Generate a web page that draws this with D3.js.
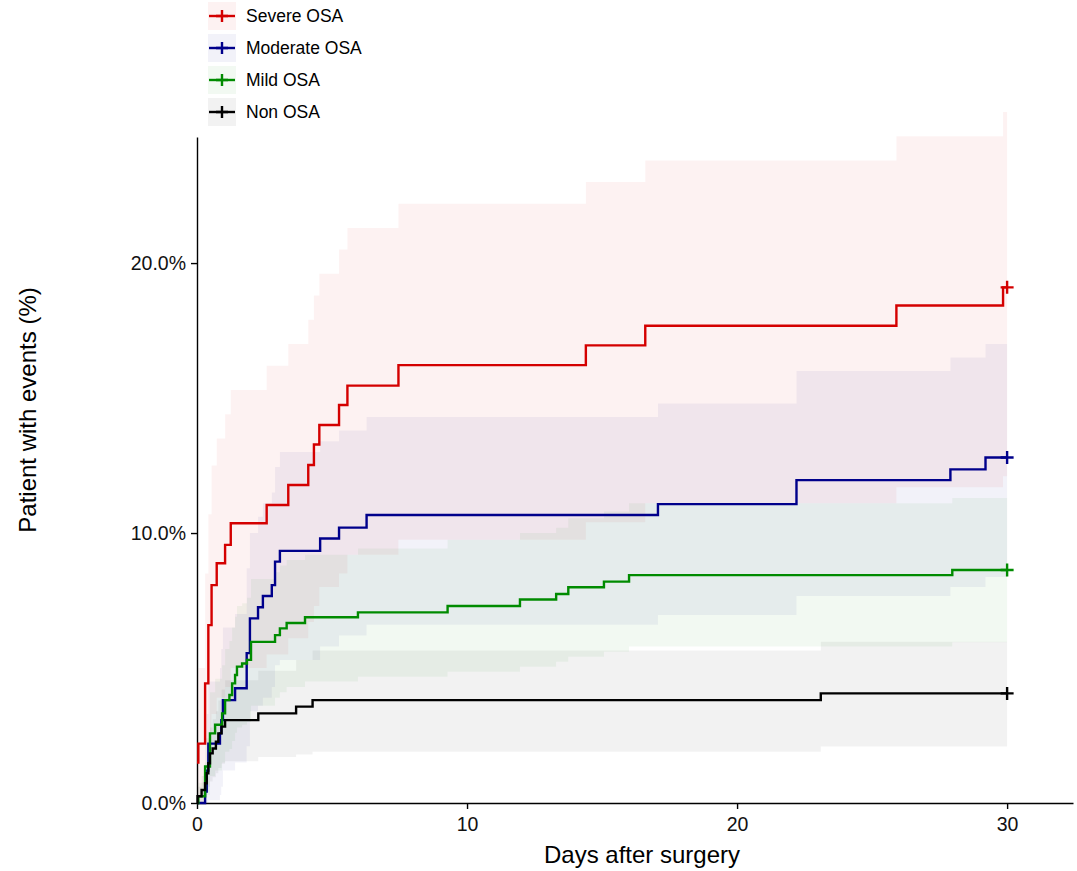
<!DOCTYPE html>
<html lang="en">
<head>
<meta charset="UTF-8">
<title>Cumulative incidence by OSA severity</title>
<script src="https://d3js.org/d3.v7.min.js"></script>
<style>
    body {
        margin: 0;
        background: #ffffff;
        font-family: "Liberation Sans", Arial, sans-serif;
    }
    .axis path, .axis line {
        stroke: #000;
        stroke-width: 1.4px;
    }
    .axis text {
        font-family: "Liberation Sans", Arial, sans-serif;
        font-size: 19.5px;
        fill: #111;
    }
    .axis-title {
        font-size: 24px;
        fill: #000;
    }
    .legend-text {
        font-size: 17.5px;
        fill: #000;
    }
</style>
</head>
<body>
<div id="chart"></div>
<script>
// rows: [day, cumulative %, lower CI %, upper CI %]
const severe = [
    [0, 1.5, 0, 3.5], [0.05, 2.2, 0, 5.0], [0.3, 4.43, 0.6, 8.5], [0.42, 6.59, 2.15, 10.7],
    [0.54, 8.07, 3.3, 12.5], [0.73, 8.88, 3.9, 13.5], [1.04, 9.56, 4.3, 14.4], [1.25, 10.36, 5.0, 15.3],
    [2.58, 11.04, 5.5, 16.2], [3.38, 11.78, 6.1, 17.0], [4.12, 12.52, 6.7, 17.9], [4.33, 13.28, 7.3, 18.8],
    [4.53, 14.0, 8.0, 19.6], [5.26, 14.74, 8.5, 20.5], [5.57, 15.46, 9.2, 21.3], [7.46, 16.22, 9.75, 22.2],
    [14.4, 16.95, 10.4, 23.0], [16.6, 17.68, 11.1, 23.8], [25.9, 18.43, 11.7, 24.7], [29.85, 19.1, 12.1, 25.6],
    [30, 19.1, 12.1, 25.6]
];
const moderate = [
    [0, 0, 0, 0], [0.3, 0.42, 0, 1.5], [0.36, 1.2, 0, 3.3], [0.42, 2.2, 0.1, 4.5],
    [0.85, 2.58, 0.3, 5.0], [0.9, 3.07, 0.6, 5.7], [0.96, 3.81, 1.2, 6.5], [1.41, 4.25, 1.5, 7.0],
    [1.84, 5.55, 2.1, 8.7], [1.96, 6.84, 3.4, 10.0], [2.26, 7.25, 3.6, 10.6], [2.44, 7.67, 3.9, 11.1],
    [2.77, 8.07, 4.3, 11.5], [2.89, 8.94, 5.1, 12.45], [3.07, 9.34, 5.3, 13.0], [4.56, 9.8, 5.8, 13.4],
    [5.26, 10.2, 6.2, 13.8], [6.28, 10.67, 6.6, 14.3], [17.07, 11.07, 6.96, 14.8], [22.2, 11.96, 7.67, 16.0],
    [27.9, 12.36, 8.0, 16.5], [29.2, 12.8, 8.37, 17.0], [30, 12.8, 8.37, 17.0]
];
const mild = [
    [0, 0, 0, 0], [0.05, 0.25, 0, 0.75], [0.3, 1.35, 0.3, 2.4], [0.48, 2.58, 1.0, 4.1],
    [0.67, 2.9, 1.2, 4.6], [0.93, 3.32, 1.5, 5.1], [1.04, 3.81, 1.9, 5.7], [1.2, 4.0, 2.0, 6.0],
    [1.3, 4.43, 2.3, 6.5], [1.41, 4.74, 2.6, 6.9], [1.48, 5.05, 2.8, 7.3], [1.67, 5.17, 2.9, 7.4],
    [1.85, 5.3, 3.0, 7.6], [2.0, 5.97, 3.6, 8.3], [2.89, 6.22, 3.9, 8.55], [3.07, 6.47, 4.1, 8.8],
    [3.32, 6.67, 4.3, 9.0], [4.0, 6.88, 4.5, 9.2], [5.96, 7.06, 4.68, 9.43], [9.28, 7.3, 4.86, 9.75],
    [11.96, 7.54, 5.05, 10.0], [13.3, 7.74, 5.23, 10.2], [13.75, 7.99, 5.42, 10.55], [15.07, 8.2, 5.6, 10.8],
    [16.0, 8.44, 5.8, 11.1], [27.97, 8.63, 5.95, 11.3], [30, 8.63, 5.95, 11.3]
];
const nonOsa = [
    [0, 0, 0, 0], [0.02, 0.25, 0, 0.6], [0.17, 0.48, 0.05, 1.0], [0.3, 0.73, 0.2, 1.35],
    [0.36, 1.1, 0.4, 1.8], [0.42, 1.47, 0.6, 2.3], [0.48, 1.84, 0.8, 2.8], [0.58, 2.02, 0.95, 3.1],
    [0.7, 2.27, 1.1, 3.4], [0.79, 2.58, 1.3, 3.8], [0.91, 2.83, 1.45, 4.2], [1.04, 3.07, 1.55, 4.55],
    [2.27, 3.32, 1.7, 4.9], [3.67, 3.57, 1.8, 5.3], [4.28, 3.81, 1.9, 5.65], [23.1, 4.06, 2.09, 5.97],
    [30, 4.06, 2.09, 5.97]
];

const groupNames = ["Severe OSA", "Moderate OSA", "Mild OSA", "Non OSA"];
const groupColors = ["#d40000", "#00008b", "#008b00", "#000000"];
const groupData = [severe, moderate, mild, nonOsa];
const xTicks = [0, 10, 20, 30];
const yTicks = [0, 10, 20];

const width = 1077, height = 871;
const panel = { left: 197, right: 1073, top: 137, bottom: 803 };

const svg = d3.select("#chart").append("svg")
    .attr("width", width)
    .attr("height", height);

const x = d3.scaleLinear().domain([0, 32.44]).range([panel.left, panel.right]);
const y = d3.scaleLinear().domain([0, 24.67]).range([panel.bottom, panel.top]);

// confidence bands
const band = d3.area()
    .curve(d3.curveStepAfter)
    .x(d => x(d[0]))
    .y0(d => y(d[2]))
    .y1(d => y(d[3]));

svg.append("g").selectAll("path")
    .data(groupData)
    .join("path")
    .attr("d", band)
    .attr("fill", (d, i) => groupColors[i])
    .attr("fill-opacity", 0.05);

// axes
svg.append("g")
    .attr("class", "axis")
    .attr("transform", `translate(0,${panel.bottom})`)
    .call(d3.axisBottom(x).tickValues(xTicks).tickSize(6).tickSizeOuter(0).tickPadding(8).tickFormat(d3.format("d")));

svg.append("g")
    .attr("class", "axis")
    .attr("transform", `translate(${panel.left},0)`)
    .call(d3.axisLeft(y).tickValues(yTicks).tickSize(6).tickSizeOuter(0).tickPadding(5).tickFormat(d => d.toFixed(1) + "%"));

// step curves
const step = d3.line()
    .curve(d3.curveStepAfter)
    .x(d => x(d[0]))
    .y(d => y(d[1]));

svg.append("g").selectAll("path")
    .data(groupData)
    .join("path")
    .attr("d", step)
    .attr("fill", "none")
    .attr("stroke", (d, i) => groupColors[i])
    .attr("stroke-width", 2.4);

// censor marks at end of follow-up
svg.append("g").selectAll("path")
    .data(groupData)
    .join("path")
    .attr("transform", d => {
        const last = d[d.length - 1];
        return `translate(${x(last[0])},${y(last[1])})`;
    })
    .attr("d", "M-6.5,0H6.5M0,-6.5V6.5")
    .attr("stroke", (d, i) => groupColors[i])
    .attr("stroke-width", 2.4)
    .attr("fill", "none");

// axis titles
svg.append("text")
    .attr("class", "axis-title")
    .attr("x", 642)
    .attr("y", 863)
    .attr("text-anchor", "middle")
    .text("Days after surgery");

svg.append("text")
    .attr("class", "axis-title")
    .attr("transform", "translate(36,410) rotate(-90)")
    .attr("text-anchor", "middle")
    .text("Patient with events (%)");

// legend
const legend = svg.append("g").attr("transform", "translate(208,2)");
const item = legend.selectAll("g")
    .data(groupNames)
    .join("g")
    .attr("transform", (d, i) => `translate(0,${i * 32})`);

item.append("rect")
    .attr("width", 28)
    .attr("height", 28)
    .attr("fill", (d, i) => groupColors[i])
    .attr("fill-opacity", 0.05);

item.append("line")
    .attr("x1", 1).attr("x2", 27)
    .attr("y1", 14).attr("y2", 14)
    .attr("stroke", (d, i) => groupColors[i])
    .attr("stroke-width", 2.4);

item.append("path")
    .attr("transform", "translate(14,14)")
    .attr("d", "M-6,0H6M0,-6V6")
    .attr("stroke", (d, i) => groupColors[i])
    .attr("stroke-width", 2.4);

item.append("text")
    .attr("class", "legend-text")
    .attr("x", 38)
    .attr("y", 20)
    .text(d => d);
</script>
</body>
</html>
